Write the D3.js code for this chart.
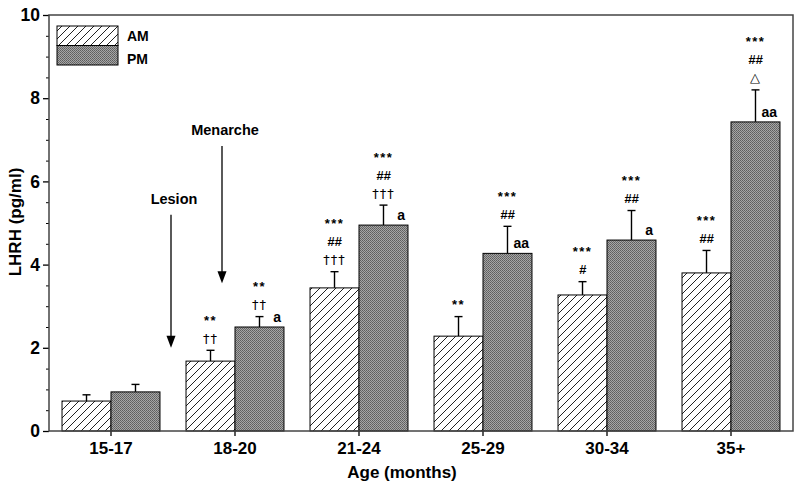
<!DOCTYPE html>
<html>
<head>
<meta charset="utf-8">
<script src="https://cdn.jsdelivr.net/npm/d3@7"></script>
<style>
  html, body { margin: 0; padding: 0; background: #fff; }
  svg { display: block; font-family: "Liberation Sans", Arial, Helvetica, sans-serif; }
</style>
</head>
<body>
<svg id="chart" width="800" height="490"></svg>
<script>
// ---------------- data ----------------
const categories = ["15-17", "18-20", "21-24", "25-29", "30-34", "35+"];
const seriesNames = ["AM", "PM"];
const amMean = [0.72, 1.68, 3.44, 2.28, 3.27, 3.80];
const amErr  = [0.15, 0.26, 0.39, 0.47, 0.32, 0.54];
const pmMean = [0.94, 2.50, 4.95, 4.27, 4.59, 7.43];
const pmErr  = [0.18, 0.25, 0.48, 0.65, 0.71, 0.77];
const amSig = [[], ["**", "††"], ["***", "##", "†††"], ["**"], ["***", "#"], ["***", "##"]];
const pmSig = [[], ["**", "††"], ["***", "##", "†††"], ["***", "##"], ["***", "##"], ["***", "##", "△"]];
const pmLetter = ["", "a", "a", "aa", "a", "aa"];
const yTicks = [0, 2, 4, 6, 8, 10];
const yMinorTicks = [0.5,1,1.5,2.5,3,3.5,4.5,5,5.5,6.5,7,7.5,8.5,9,9.5];
const events = [
  { label: "Lesion",   category: "18-20", yFrom: 5.2, yTo: 2.0 },
  { label: "Menarche", category: "18-20", yFrom: 6.85, yTo: 3.55 }
];
const xTitle = "Age (months)";
const yTitle = "LHRH (pg/ml)";

// ---------------- layout ----------------
const svg = d3.select("#chart");
const L = 49, R = 793, T = 15, B = 431;

const x = d3.scaleBand().domain(categories).range([L, R]).paddingInner(0.21).paddingOuter(0.105);
const xs = d3.scaleBand().domain(seriesNames).range([0, x.bandwidth()]).padding(0);
const y = d3.scaleLinear().domain([0, 10]).range([B, T]);

// patterns
const defs = svg.append("defs");
const hatch = defs.append("pattern").attr("id", "hatch").attr("patternUnits", "userSpaceOnUse")
  .attr("width", 8).attr("height", 8);
hatch.append("rect").attr("width", 8).attr("height", 8).attr("fill", "#fff");
hatch.append("path").attr("d", "M-2,2 L2,-2 M0,8 L8,0 M6,10 L10,6")
  .attr("stroke", "#222").attr("stroke-width", 1);
const dots = defs.append("pattern").attr("id", "dots").attr("patternUnits", "userSpaceOnUse")
  .attr("width", 2).attr("height", 2);
dots.append("rect").attr("width", 2).attr("height", 2).attr("fill", "#a6a6a6");
dots.append("rect").attr("width", 1).attr("height", 1).attr("fill", "#5e5e5e");
dots.append("rect").attr("x", 1).attr("y", 1).attr("width", 1).attr("height", 1).attr("fill", "#6a6a6a");

// rows
const rows = [];
categories.forEach((c, i) => {
  rows.push({ cat: c, s: "AM", v: amMean[i], e: amErr[i], sig: amSig[i], letter: "" });
  rows.push({ cat: c, s: "PM", v: pmMean[i], e: pmErr[i], sig: pmSig[i], letter: pmLetter[i] });
});

// error bars (drawn first so bars cover their bottom)
const eb = svg.append("g");
rows.forEach(d => {
  const cx = x(d.cat) + xs(d.s) + xs.bandwidth() / 2;
  eb.append("line").attr("x1", cx).attr("x2", cx).attr("y1", y(d.v)).attr("y2", y(d.v + d.e))
    .attr("stroke", "#000").attr("stroke-width", 1.4);
  eb.append("line").attr("x1", cx - 4).attr("x2", cx + 4).attr("y1", y(d.v + d.e)).attr("y2", y(d.v + d.e))
    .attr("stroke", "#000").attr("stroke-width", 1.4);
});

// bars
svg.append("g").selectAll("rect").data(rows).join("rect")
  .attr("x", d => x(d.cat) + xs(d.s))
  .attr("y", d => y(d.v))
  .attr("width", xs.bandwidth())
  .attr("height", d => y(0) - y(d.v))
  .attr("fill", d => d.s === "AM" ? "url(#hatch)" : "url(#dots)")
  .attr("stroke", "#000").attr("stroke-width", 1);

// significance marks
const sg = svg.append("g").attr("text-anchor", "middle");
rows.forEach(d => {
  const cx = x(d.cat) + xs(d.s) + xs.bandwidth() / 2;
  const capY = y(d.v + d.e);
  const n = d.sig.length;
  d.sig.forEach((t, k) => {
    const cy = capY - 12 - (n - 1 - k) * 18;
    const isHash = t.indexOf("#") >= 0;
    const isStar = t.indexOf("*") >= 0;
    const isDag = t.indexOf("†") >= 0;
    sg.append("text").attr("x", cx).attr("y", cy).attr("dy", "0.35em")
      .attr("fill", "#000")
      .attr("font-family", isDag ? "DejaVu Sans, sans-serif" : "Liberation Sans, Arial, sans-serif")
      .attr("font-size", isHash ? 13 : 13)
      .attr("font-style", isHash ? "italic" : "normal")
      .attr("font-weight", isStar || isHash ? "bold" : "normal")
      .attr("letter-spacing", isStar ? 1.5 : (isDag ? 1 : 0))
      .text(t);
  });
  if (d.letter) {
    sg.append("text").attr("x", x(d.cat) + xs(d.s) + xs.bandwidth() - 3).attr("y", y(d.v) - 5)
      .attr("fill", "#000")
      .attr("text-anchor", "end").attr("font-size", 14).attr("font-weight", "bold").text(d.letter);
  }
});

// event arrows
const evOffset = { "Lesion": -64, "Menarche": -13 };
events.forEach(ev => {
  const cx = x(ev.category) + x.bandwidth() / 2 + evOffset[ev.label];
  const y0 = y(ev.yFrom), y1 = y(ev.yTo);
  svg.append("text").attr("x", cx + 3).attr("y", y0 - 11).attr("text-anchor", "middle")
    .attr("font-size", 14.5).attr("font-weight", "bold").text(ev.label);
  svg.append("line").attr("x1", cx).attr("x2", cx).attr("y1", y0).attr("y2", y1 - 10)
    .attr("stroke", "#000").attr("stroke-width", 1.3);
  svg.append("path").attr("d", `M${cx - 4.5},${y1 - 12} L${cx + 4.5},${y1 - 12} L${cx},${y1} Z`)
    .attr("fill", "#000");
});

// axes
const yAxis = d3.axisLeft(y).tickValues(yTicks).tickSize(6).tickPadding(3).tickFormat(d3.format("d"));
const gy = svg.append("g").attr("transform", `translate(${L},0)`).call(yAxis);
gy.select(".domain").remove();
gy.selectAll("text").attr("font-size", 17.5).attr("font-weight", "bold").attr("font-family", "Liberation Sans, Arial, sans-serif");
gy.selectAll("line").attr("stroke-width", 1.3);
const gym = svg.append("g").attr("transform", `translate(${L},0)`)
  .call(d3.axisLeft(y).tickValues(yMinorTicks).tickSize(3).tickFormat(""));
gym.select(".domain").remove();

const xAxis = d3.axisBottom(x).tickSize(5).tickPadding(6);
const gx = svg.append("g").attr("transform", `translate(0,${B})`).call(xAxis);
gx.select(".domain").remove();
gx.selectAll("text").attr("font-size", 17).attr("font-weight", "bold").attr("font-family", "Liberation Sans, Arial, sans-serif");
gx.selectAll("line").attr("stroke-width", 1.3);

// frame
svg.append("rect").attr("x", L).attr("y", T).attr("width", R - L).attr("height", B - T)
  .attr("fill", "none").attr("stroke", "#444").attr("stroke-width", 1.5);

// titles
svg.append("text").attr("x", 402).attr("y", 478).attr("text-anchor", "middle")
  .attr("font-size", 17).attr("font-weight", "bold").text(xTitle);
svg.append("text").attr("transform", "translate(21,222) rotate(-90)").attr("text-anchor", "middle")
  .attr("font-size", 17).attr("font-weight", "bold").text(yTitle);

// legend
const lg = svg.append("g");
seriesNames.forEach((s, i) => {
  lg.append("rect").attr("x", 57).attr("y", 26 + i * 19.5).attr("width", 61).attr("height", 19.5)
    .attr("fill", s === "AM" ? "url(#hatch)" : "url(#dots)").attr("stroke", "#000").attr("stroke-width", 1);
  lg.append("text").attr("x", 127).attr("y", 36 + i * 23).attr("dy", "0.35em")
    .attr("font-size", 14).attr("font-weight", "bold").text(s);
});
</script>
</body>
</html>
